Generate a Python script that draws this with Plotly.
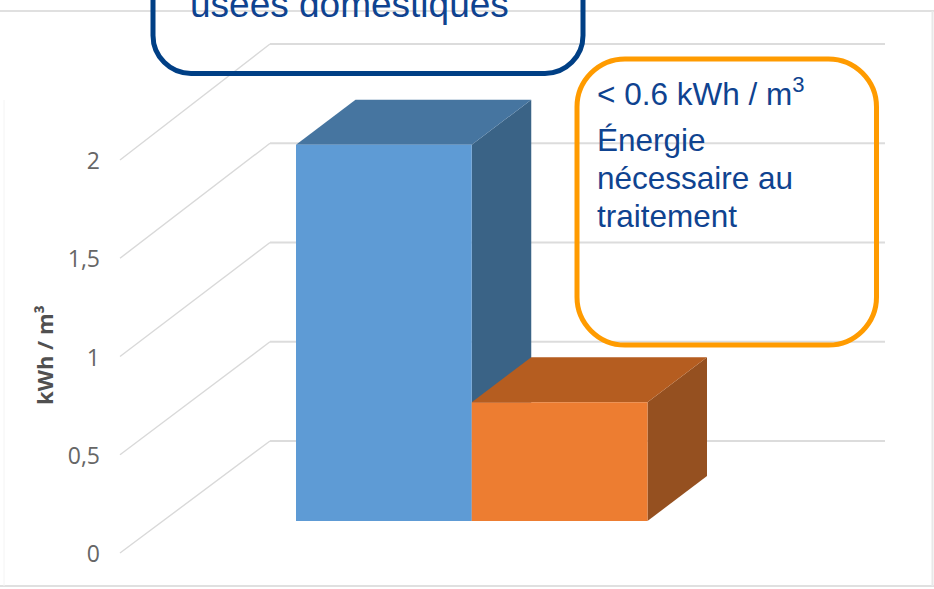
import plotly.graph_objects as go

categories = ["Eaux usées", "Traitement"]
bar_values = [1.9, 0.6]
front_colors = ["#5e9bd5", "#ed7d31"]
top_colors = ["#4675a0", "#b55d20"]
side_colors = ["#3a6386", "#955020"]
tick_values = [0, 0.5, 1, 1.5, 2]
tick_labels = ["0", "0,5", "1", "1,5", "2"]

W, H = 934, 589
X0, XU = 296.0, 175.75     # pixel of x=0, pixels per bar
Y0, YU = 521.0, 198.0      # pixel of value 0 on the bar plane, pixels per unit
DX, DY = 59.5 / XU, 45.0 / YU   # oblique depth of a bar
AX0, AXU = 553.0, 196.5    # value-axis scale on the front edge of the wall


def px_x(px):
    return (px - X0) / XU


def px_y(px):
    return (Y0 - px) / YU


fig = go.Figure()

# Gridlines: wall edge then back wall
for v in tick_values:
    fig.add_trace(go.Scatter(
        x=[px_x(120), px_x(270)],
        y=[px_y(AX0 - AXU * v), px_y(441 - 198.5 * v)],
        mode="lines", line=dict(color="#d9d9d9", width=1.4),
        hoverinfo="skip", showlegend=False))
    fig.add_trace(go.Scatter(
        x=[px_x(270), px_x(885)],
        y=[px_y(441 - 198.5 * v)] * 2,
        mode="lines", line=dict(color="#dcdcdc", width=2),
        hoverinfo="skip", showlegend=False))

# 3D faces of each bar, derived from the values
for i, (name, v) in enumerate(zip(categories, bar_values)):
    left, right = float(i), float(i + 1)
    fig.add_trace(go.Scatter(
        x=[right, right + DX, right + DX, right, right],
        y=[0, DY, v + DY, v, 0],
        mode="lines", fill="toself", fillcolor=side_colors[i],
        line=dict(width=0), hoverinfo="skip", showlegend=False))
    fig.add_trace(go.Scatter(
        x=[left, left + DX, right + DX, right, left],
        y=[v, v + DY, v + DY, v, v],
        mode="lines", fill="toself", fillcolor=top_colors[i],
        line=dict(width=0), hoverinfo="skip", showlegend=False))
    fig.add_trace(go.Scatter(
        x=[left, right, right, left, left],
        y=[0, 0, v, v, 0], name=name,
        mode="lines", fill="toself", fillcolor=front_colors[i],
        line=dict(width=0), showlegend=False))

# Invisible trace so the value axis is drawn
fig.add_trace(go.Scatter(
    x=[px_x(120)] * len(tick_values), y=tick_values, yaxis="y2",
    mode="markers", marker=dict(opacity=0), hoverinfo="skip", showlegend=False))


def to_paper(path_box):
    x0, y0, x1, y1, r = path_box
    rx, ry = r / W, r / H
    a, b, c, d = x0 / W, 1 - y0 / H, x1 / W, 1 - y1 / H
    return (f"M {a + rx} {b} L {c - rx} {b} C {c - 0.45 * rx} {b} {c} {b - 0.45 * ry} {c} {b - ry} "
            f"L {c} {d + ry} C {c} {d + 0.45 * ry} {c - 0.45 * rx} {d} {c - rx} {d} L {a + rx} {d} "
            f"C {a + 0.45 * rx} {d} {a} {d + 0.45 * ry} {a} {d + ry} L {a} {b - ry} "
            f"C {a} {b - 0.45 * ry} {a + 0.45 * rx} {b} {a + rx} {b} Z")


def hline(y, x0, x1, color="#e0e0e0", width=2):
    return dict(type="line", xref="paper", yref="paper", x0=x0 / W, x1=x1 / W,
                y0=1 - y / H, y1=1 - y / H, line=dict(color=color, width=width))


def vline(x, y0, y1, color="#e8e8e8", width=2):
    return dict(type="line", xref="paper", yref="paper", x0=x / W, x1=x / W,
                y0=1 - y0 / H, y1=1 - y1 / H, line=dict(color=color, width=width))


shapes = [
    hline(11, 0, 934),
    hline(586, 0, 934),
    vline(932.5, 11, 586),
    vline(4, 100, 586, color="#f4f4f4", width=1),
    dict(type="path", xref="paper", yref="paper", path=to_paper((153, -60, 583, 73.5, 38)),
         line=dict(color="#003f85", width=5), fillcolor="rgba(0,0,0,0)"),
    dict(type="path", xref="paper", yref="paper", path=to_paper((577, 59, 876.5, 345, 48)),
         line=dict(color="#ff9b00", width=5), fillcolor="rgba(0,0,0,0)"),
]


def text(x, y, s, size=31.5, color="#0f4390"):
    return dict(xref="paper", yref="paper", x=x / W, y=1 - y / H, text=s, showarrow=False,
                xanchor="left", yanchor="middle", align="left",
                font=dict(family="Liberation Sans", size=size, color=color))


annotations = [
    text(188, 5, "usées domestiques", size=37),
    text(595, 92, "&lt; 0.6 kWh / m<sup>3</sup>"),
    text(595, 140, "Énergie"),
    text(595, 178, "nécessaire au"),
    text(595, 216, "traitement"),
    dict(xref="paper", yref="paper", x=44 / W, y=1 - 355 / H,
         text="<b>kWh / m³</b>", showarrow=False,
         textangle=-90, xanchor="center", yanchor="middle",
         font=dict(family="Open Sans", size=22, color="#505050")),
]

fig.update_layout(
    width=W, height=H, margin=dict(l=0, r=0, t=0, b=0),
    paper_bgcolor="white", plot_bgcolor="white",
    xaxis=dict(range=[px_x(0), px_x(W)], visible=False, fixedrange=True),
    yaxis=dict(range=[px_y(H), px_y(0)], visible=False, fixedrange=True),
    yaxis2=dict(range=[-(H - AX0 - 1) / AXU, (AX0 + 1) / AXU], overlaying="y", side="left",
                anchor="free", position=100 / W,
                tickvals=tick_values, ticktext=tick_labels, ticks="",
                showgrid=False, zeroline=False, showline=False,
                tickfont=dict(family="Open Sans", size=23, color="#666666"), fixedrange=True),
    shapes=shapes, annotations=annotations,
)

fig.write_html("out.html", config={"displayModeBar": False},
               post_script="document.body.style.margin='0';document.body.style.overflow='hidden';")
